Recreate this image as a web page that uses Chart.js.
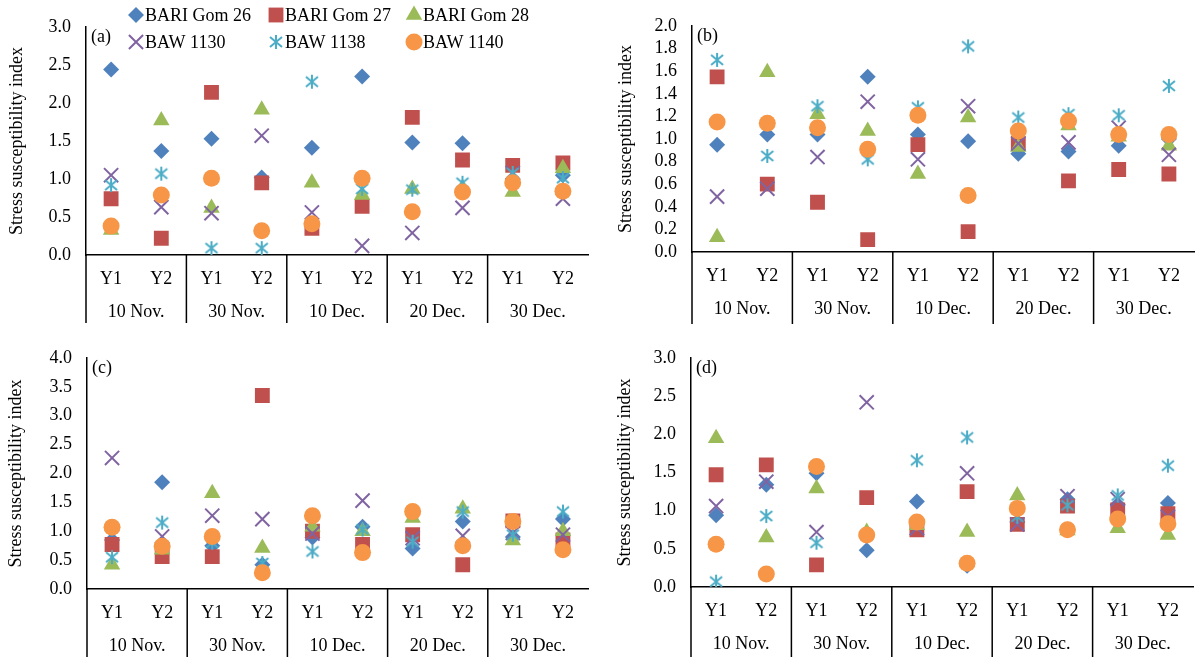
<!DOCTYPE html>
<html>
<head>
<meta charset="utf-8">
<script src="https://cdn.jsdelivr.net/npm/chart.js@4.4.0/dist/chart.umd.min.js"></script>
<style>
  html, body { margin: 0; padding: 0; background: #fff; }
  body { width: 1199px; height: 657px; position: relative; overflow: hidden; }
  .panel { position: absolute; overflow: hidden; }
  canvas { display: block; }
</style>
</head>
<body>
<div class="panel" style="left:0;top:0;width:600px;height:330px"><canvas id="chartA" width="600" height="330"></canvas></div>
<div class="panel" style="left:600px;top:0;width:599px;height:330px"><canvas id="chartB" width="606" height="330"></canvas></div>
<div class="panel" style="left:0;top:330px;width:600px;height:327px"><canvas id="chartC" width="600" height="327"></canvas></div>
<div class="panel" style="left:600px;top:330px;width:599px;height:327px"><canvas id="chartD" width="605" height="327"></canvas></div>
<script>
const categories = ["Y1", "Y2", "Y1", "Y2", "Y1", "Y2", "Y1", "Y2", "Y1", "Y2"];
const dates = ["10 Nov.", "30 Nov.", "10 Dec.", "20 Dec.", "30 Dec."];
const seriesNames = ["BARI Gom 26", "BARI Gom 27", "BARI Gom 28", "BAW 1130", "BAW 1138", "BAW 1140"];

// (a)
const aGom26 = [2.44, 1.37, 1.53, 1.02, 1.41, 2.35, 1.48, 1.47, 1.0, 1.05];
const aGom27 = [0.74, 0.22, 2.14, 0.95, 0.35, 0.64, 1.81, 1.25, 1.18, 1.21];
const aGom28 = [0.33, 1.77, 0.62, 1.91, 0.95, 0.79, 0.87, 0.88, 0.83, 1.14];
const aBaw1130 = [1.05, 0.63, 0.55, 1.57, 0.56, 0.12, 0.29, 0.62, 1.08, 0.74];
const aBaw1138 = [0.92, 1.07, 0.09, 0.09, 2.28, 0.87, 0.86, 0.95, 1.08, 1.01];
const aBaw1140 = [0.38, 0.79, 1.01, 0.32, 0.41, 1.01, 0.57, 0.83, 0.95, 0.84];

// (b)
const bGom26 = [0.95, 1.04, 1.04, 1.55, 1.04, 0.98, 0.87, 0.89, 0.94, 1.0];
const bGom27 = [1.55, 0.6, 0.44, 0.11, 0.95, 0.18, 0.96, 0.63, 0.73, 0.69];
const bGom28 = [0.13, 1.59, 1.22, 1.07, 0.69, 1.19, 0.93, 1.12, 1.02, 0.94];
const bBaw1130 = [0.49, 0.56, 0.84, 1.33, 0.82, 1.29, 0.96, 0.97, 1.1, 0.86];
const bBaw1138 = [1.7, 0.85, 1.29, 0.82, 1.28, 1.82, 1.19, 1.22, 1.21, 1.47];
const bBaw1140 = [1.15, 1.14, 1.1, 0.91, 1.21, 0.5, 1.07, 1.16, 1.04, 1.04];

// (c)
const cGom26 = [0.85, 1.85, 0.75, 0.42, 0.89, 1.08, 0.7, 1.17, 0.9, 1.21];
const cGom27 = [0.77, 0.56, 0.56, 3.35, 1.0, 0.77, 0.94, 0.42, 1.18, 0.85];
const cGom28 = [0.42, 0.68, 1.66, 0.71, 1.08, 1.0, 1.23, 1.39, 0.84, 1.0];
const cBaw1130 = [2.27, 0.91, 1.27, 1.21, 0.96, 1.53, 0.88, 0.92, 0.97, 0.94];
const cBaw1138 = [0.55, 1.15, 0.8, 0.45, 0.65, 1.03, 0.82, 1.34, 0.94, 1.34];
const cBaw1140 = [1.07, 0.74, 0.91, 0.28, 1.27, 0.63, 1.34, 0.75, 1.17, 0.68];

// (d)
const dGom26 = [0.94, 1.34, 1.49, 0.48, 1.12, 0.28, 0.85, 1.15, 1.08, 1.1];
const dGom27 = [1.47, 1.6, 0.29, 1.17, 0.75, 1.25, 0.82, 1.06, 1.01, 0.96];
const dGom28 = [1.95, 0.65, 1.29, 0.72, 0.81, 0.72, 1.2, 0.74, 0.77, 0.68];
const dBaw1130 = [1.06, 1.38, 0.72, 2.42, 0.77, 1.49, 0.82, 1.19, 1.15, 0.92];
const dBaw1138 = [0.07, 0.93, 0.58, 0.68, 1.66, 1.96, 0.92, 1.07, 1.2, 1.59];
const dBaw1140 = [0.56, 0.17, 1.58, 0.68, 0.85, 0.31, 1.03, 0.75, 0.89, 0.83];

const serif = "'Liberation Serif', 'Times New Roman', serif";
const colors = ["#4F81BD", "#C0504D", "#9BBB59", "#8064A2", "#4BACC6", "#F79646"];

// excel style asterisk: an x with a vertical bar
function makeAsterisk(color) {
  const c = document.createElement("canvas");
  c.width = 16;
  c.height = 16;
  const g = c.getContext("2d");
  g.strokeStyle = color;
  g.lineWidth = 2;
  g.beginPath();
  g.moveTo(2, 3); g.lineTo(14, 13);
  g.moveTo(14, 3); g.lineTo(2, 13);
  g.moveTo(8, 1); g.lineTo(8, 15);
  g.stroke();
  return c;
}

const markers = [
  { style: "rectRot", radius: 8, border: 0 },
  { style: "rect", radius: 10.5, border: 0 },
  { style: "triangle", radius: 9.5, border: 0 },
  { style: "crossRot", radius: 10, border: 2 },
  { style: makeAsterisk(colors[4]), radius: 8, border: 0 },
  { style: "circle", radius: 8.5, border: 0 },
];

const panelPlugin = {
  id: "panel",
  afterDraw(chart, args, opts) {
    const { ctx, chartArea } = chart;
    const x = chart.scales.x;
    const half = (x.getPixelForValue(1) - x.getPixelForValue(0)) / 2;
    ctx.save();
    ctx.font = "18px " + serif;
    ctx.fillStyle = "#000";
    ctx.textBaseline = "middle";
    ctx.textAlign = "left";
    ctx.fillText(opts.letter, chartArea.left + 5, chartArea.top + 10);

    ctx.strokeStyle = "#000";
    ctx.lineWidth = 1.5;
    ctx.textAlign = "center";
    dates.forEach((d, g) => {
      const left = x.getPixelForValue(2 * g) - half;
      ctx.beginPath();
      ctx.moveTo(left, chartArea.bottom);
      ctx.lineTo(left, chartArea.bottom + opts.sepLength);
      ctx.stroke();
      ctx.fillText(d, left + 2 * half, chartArea.bottom + 57);
    });

    if (opts.legend) {
      const cols = [136, 276, 414];
      const rows = [15, 42];
      seriesNames.forEach((name, i) => {
        const mx = cols[i % 3];
        const my = rows[Math.floor(i / 3)];
        ctx.fillStyle = colors[i];
        ctx.strokeStyle = colors[i];
        ctx.lineWidth = markers[i].border;
        Chart.helpers.drawPoint(ctx, {
          pointStyle: markers[i].style,
          rotation: 0,
          radius: markers[i].radius,
          borderWidth: markers[i].border,
        }, mx, my);
        ctx.fillStyle = "#000";
        ctx.textAlign = "left";
        ctx.fillText(name, mx + 9, my + 1);
      });
    }
    ctx.restore();
  },
};

function makeChart(id, series, p) {
  return new Chart(document.getElementById(id), {
    type: "line",
    data: {
      labels: categories,
      datasets: series.map((values, i) => ({
        label: seriesNames[i],
        data: values,
        showLine: false,
        pointStyle: markers[i].style,
        pointRadius: markers[i].radius,
        pointHoverRadius: markers[i].radius,
        pointBackgroundColor: colors[i],
        pointBorderColor: colors[i],
        pointBorderWidth: markers[i].border,
        order: 6 - i,
      })),
    },
    options: {
      responsive: false,
      animation: false,
      events: [],
      layout: { padding: { top: p.top, right: p.right, left: 0, bottom: 0 } },
      plugins: {
        legend: { display: false },
        tooltip: { enabled: false },
        panel: { letter: p.letter, sepLength: p.sepLength, legend: p.legend },
      },
      scales: {
        x: {
          offset: true,
          grid: { display: false, drawTicks: false },
          border: { color: "#000", width: 1.5 },
          ticks: { color: "#000", font: { family: serif, size: 18 }, padding: 13, autoSkip: false, maxRotation: 0 },
          afterFit: (s) => { s.height = p.xHeight; },
        },
        y: {
          min: 0,
          max: p.max,
          grid: { display: false, drawTicks: false },
          border: { color: "#000", width: 1.5 },
          ticks: {
            stepSize: p.step,
            autoSkip: false,
            color: "#000",
            font: { family: serif, size: 18 },
            padding: 15,
            callback: (v) => Number(v).toFixed(1),
          },
          title: {
            display: true,
            text: "Stress susceptibility index",
            color: "#000",
            font: { family: serif, size: 18 },
            padding: { top: p.titlePad, bottom: 0 },
          },
          afterFit: (s) => { s.width = p.left; },
        },
      },
    },
    plugins: [panelPlugin],
  });
}

makeChart("chartA", [aGom26, aGom27, aGom28, aBaw1130, aBaw1138, aBaw1140],
  { letter: "(a)", max: 3, step: 0.5, top: 27, right: 2, left: 86, xHeight: 75, titlePad: 6, sepLength: 68, legend: true });
makeChart("chartB", [bGom26, bGom27, bGom28, bBaw1130, bBaw1138, bBaw1140],
  { letter: "(b)", max: 2, step: 0.2, top: 26, right: 1, left: 92, xHeight: 78, titlePad: 15, sepLength: 72, legend: false });
makeChart("chartC", [cGom26, cGom27, cGom28, cBaw1130, cBaw1138, cBaw1140],
  { letter: "(c)", max: 4, step: 0.5, top: 28, right: 2, left: 87, xHeight: 68, titlePad: 5, sepLength: 80, legend: false });
makeChart("chartD", [dGom26, dGom27, dGom28, dBaw1130, dBaw1138, dBaw1140],
  { letter: "(d)", max: 3, step: 0.5, top: 28, right: 1, left: 91, xHeight: 70, titlePad: 14, sepLength: 80, legend: false });
</script>
</body>
</html>
